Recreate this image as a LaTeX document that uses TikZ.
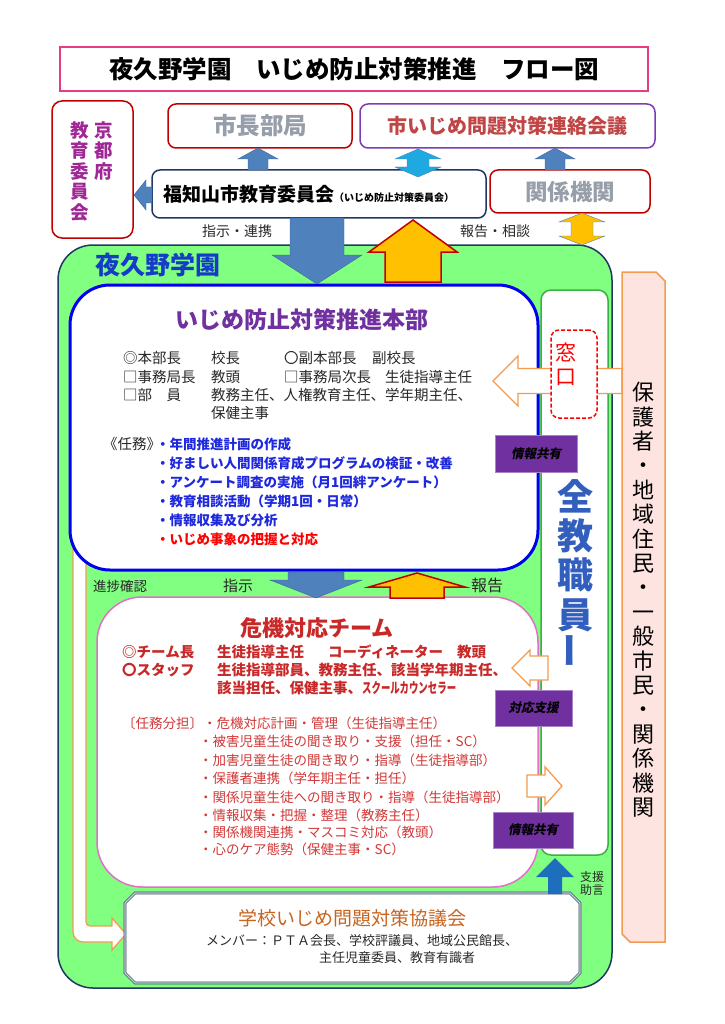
\documentclass[tikz,border=0pt]{standalone}
\usepackage{fontspec}
\setmainfont{Noto Sans CJK JP}
\newfontfamily\jpslant{Noto Sans CJK JP}[FakeSlant=0.2]
\usepackage{graphicx}
\usetikzlibrary{calc}

\definecolor{titlepink}{RGB}{230,60,130}
\definecolor{boxred}{RGB}{192,0,0}
\definecolor{kyotopurple}{RGB}{160,40,150}
\definecolor{kaigipurple}{RGB}{125,60,180}
\definecolor{kaigitext}{RGB}{192,70,70}
\definecolor{navy}{RGB}{31,56,100}
\definecolor{grayt}{RGB}{150,158,170}
\definecolor{schoolgreen}{RGB}{128,255,128}
\definecolor{schoolblue}{RGB}{20,60,200}
\definecolor{staffgreen}{RGB}{60,176,67}
\definecolor{honbublue}{RGB}{0,0,240}
\definecolor{honbupurple}{RGB}{112,48,160}
\definecolor{taskblue}{RGB}{30,40,220}
\definecolor{crisispink}{RGB}{228,110,200}
\definecolor{crisisred}{RGB}{200,40,40}
\definecolor{dutyred}{RGB}{210,56,56}
\definecolor{arrowblue}{RGB}{79,129,189}
\definecolor{arrowcyan}{RGB}{30,170,225}
\definecolor{gold}{RGB}{255,192,0}
\definecolor{hollow}{RGB}{245,155,80}
\definecolor{sharepurple}{RGB}{112,48,160}
\definecolor{staffblue}{RGB}{50,95,190}
\definecolor{guardpink}{RGB}{253,228,225}
\definecolor{kyogibrown}{RGB}{200,100,30}
\definecolor{kyogiline}{RGB}{47,79,99}
\definecolor{supportblue}{RGB}{30,110,190}
\definecolor{textgray}{RGB}{40,40,40}

\newcommand{\blockarrow}[6][]{%
  \coordinate (hb) at ($(#3)!#6!(#2)$);
  \draw[#1] ($(#2)!#4!90:(#3)$) -- ($(hb)!#4!90:(#3)$) -- ($(hb)!#5!90:(#3)$) -- (#3) -- ($(hb)!#5!-90:(#3)$) -- ($(hb)!#4!-90:(#3)$) -- ($(#2)!#4!-90:(#3)$) -- cycle;}
\newcommand{\twinarrow}[6][]{%
  \coordinate (ha) at ($(#2)!#6!(#3)$);
  \coordinate (hb) at ($(#3)!#6!(#2)$);
  \draw[#1] (#2) -- ($(ha)!#5!90:(#3)$) -- ($(ha)!#4!90:(#3)$) -- ($(hb)!#4!-90:(#2)$) -- ($(hb)!#5!-90:(#2)$) -- (#3) -- ($(hb)!#5!90:(#2)$) -- ($(hb)!#4!90:(#2)$) -- ($(ha)!#4!-90:(#3)$) -- ($(ha)!#5!-90:(#3)$) -- cycle;}

\begin{document}
\begin{tikzpicture}[x=1pt,y=-1pt,
  topbox/.style={draw, line width=1.5pt, rounded corners=8pt, fill=white, inner sep=0pt},
  member/.style={inner sep=0pt, anchor=west, text=textgray, font=\fontsize{14.5}{14.5}\selectfont},
  task/.style={inner sep=0pt, anchor=west, text=taskblue, font=\bfseries\fontsize{13.5}{13.5}\selectfont},
  crisis/.style={inner sep=0pt, anchor=west, text=crisisred, font=\bfseries\fontsize{14.5}{14.5}\selectfont},
  duty/.style={inner sep=0pt, anchor=west, text=dutyred, font=\fontsize{13.5}{13.5}\selectfont},
  label/.style={inner sep=0pt, text=textgray},
  sharebox/.style={draw=sharepurple!60, fill=sharepurple, inner sep=0pt, font=\jpslant\bfseries\fontsize{12.5}{12.5}\selectfont},
  hollowarrow/.style={draw=hollow, line width=1.3pt, fill=white},
  vtext/.style={inner sep=0pt, align=center, anchor=north}]
\useasboundingbox (0,0) rectangle (724,1024);

\node[draw=titlepink, line width=1.5pt, minimum width=588pt, minimum height=44pt, inner sep=0pt, font=\bfseries\fontsize{24.5}{24.5}\selectfont] (title) at (354,69) {夜久野学園　いじめ防止対策推進　フロー図};

\node[topbox, draw=boxred, rounded corners=10pt, minimum width=81pt, minimum height=137pt] (kyoto) at (92.5,169.5) {};
\node[vtext, text=kyotopurple, font=\bfseries\fontsize{18.5}{20.5}\selectfont] (kyotoa) at (104,121) {京\\都\\府};
\node[vtext, text=kyotopurple, font=\bfseries\fontsize{18.5}{20.5}\selectfont] (kyotob) at (80,121) {教\\育\\委\\員\\会};
\node[topbox, draw=boxred, minimum width=184pt, minimum height=44pt, text=grayt, font=\bfseries\fontsize{23.5}{23.5}\selectfont] (mayor) at (260,126) {市長部局};
\node[topbox, draw=kaigipurple, minimum width=295pt, minimum height=44pt, text=kaigitext, font=\bfseries\fontsize{20}{20}\selectfont] (kaigi) at (507.5,126) {市いじめ問題対策連絡会議};
\node[topbox, draw=navy, minimum width=334pt, minimum height=48pt] (fuku) at (319,194) {};
\node[inner sep=0pt, anchor=west, font=\bfseries] (fukutext) at (163,194) {\fontsize{19}{19}\selectfont 福知山市教育委員会\fontsize{10}{10}\selectfont（いじめ防止対策委員会）};
\node[topbox, draw=boxred, minimum width=160pt, minimum height=43pt, text=grayt, font=\bfseries\fontsize{22.5}{22.5}\selectfont] (kankei) at (570,191.5) {関係機関};

\blockarrow[fill=arrowblue, draw=arrowblue!80!black]{258,170}{258,148}{10pt}{20pt}{11pt}
\twinarrow[fill=arrowcyan, draw=arrowblue]{418,149}{418,177}{11pt}{23pt}{10pt}
\blockarrow[fill=arrowblue, draw=arrowblue!80!black]{555,170}{555,148}{10pt}{20pt}{11pt}
\blockarrow[fill=arrowblue, draw=arrowblue!80!black]{152,195}{134,195}{8pt}{15pt}{12pt}
\node[label, font=\fontsize{14}{14}\selectfont] (renkei) at (237,231) {指示・連携};
\node[label, font=\fontsize{14}{14}\selectfont] (soudan) at (495,231) {報告・相談};

\node[draw=navy, line width=1.5pt, fill=schoolgreen, rounded corners=35pt, minimum width=554pt, minimum height=743pt, inner sep=0pt] (school) at (335,616.5) {};
\twinarrow[fill=gold, draw=arrowblue]{582,213}{582,245}{11pt}{23pt}{9pt}
\node[inner sep=0pt, anchor=west, text=schoolblue, font=\bfseries\fontsize{25}{25}\selectfont] (schoolname) at (95,265) {夜久野学園};
\node[draw=staffgreen, line width=1.5pt, fill=white, rounded corners=10pt, minimum width=67pt, minimum height=565pt, inner sep=0pt] (staffbox) at (574.5,572.5) {};

\draw[hollowarrow] (86,540) -- (73,540) [rounded corners=10pt] -- (73,942) -- (100,942) [sharp corners] -- (112,942) -- (112,950) -- (126,934) -- (112,918) -- (112,926) -- (100,926) [rounded corners=4pt] -- (86,926) -- (86,540) [sharp corners] -- cycle;

\node[draw=honbublue, line width=3pt, rounded corners=40pt, fill=white, minimum width=468pt, minimum height=285pt, inner sep=0pt] (honbu) at (304,427.5) {};
\node[inner sep=0pt, text=honbupurple, font=\bfseries\fontsize{23}{23}\selectfont] (honbutitle) at (302,320) {いじめ防止対策推進本部};
\node[member] (m1a) at (123,358) {◎本部長};
\node[member] (m1b) at (211,358) {校長};
\node[member] (m1c) at (284,358) {〇副本部長};
\node[member] (m1d) at (372,358) {副校長};
\node[member] (m2a) at (123,377) {□事務局長};
\node[member] (m2b) at (211,377) {教頭};
\node[member] (m2c) at (284,377) {□事務局次長};
\node[member] (m2d) at (385,377) {生徒指導主任};
\node[member] (m3a) at (123,395) {□部　員};
\node[member] (m3b) at (211,395) {教務主任、人権教育主任、学年期主任、};
\node[member] (m4b) at (211,413) {保健主事};
\node[member] (ninmu) at (103,444) {《任務》};
\node[task] (t1) at (156,444) {・年間推進計画の作成};
\node[task] (t2) at (156,463) {・好ましい人間関係育成プログラムの検証・改善};
\node[task] (t3) at (156,482) {・アンケート調査の実施（月1回絆アンケート）};
\node[task] (t4) at (156,501) {・教育相談活動（学期1回・日常）};
\node[task] (t5) at (156,520) {・情報収集及び分析};
\node[task, text=red] (t6) at (156,539) {・いじめ事象の把握と対応};

\node[label, font=\fontsize{13.5}{13.5}\selectfont] (shinchoku) at (120,586) {進捗確認};
\node[label, font=\fontsize{15}{15}\selectfont] (shiji) at (238,586) {指示};
\node[label, font=\fontsize{16}{16}\selectfont] (houkoku) at (487,585) {報告};

\node[draw=crisispink, line width=1.5pt, rounded corners=45pt, fill=white, minimum width=441pt, minimum height=290pt, inner sep=0pt] (kiki) at (317.5,742) {};
\node[inner sep=0pt, text=crisisred, font=\bfseries\fontsize{22}{22}\selectfont] (kikititle) at (317,628) {危機対応チーム};
\node[crisis] (c1a) at (122,652) {◎チーム長};
\node[crisis] (c1b) at (217,652) {生徒指導主任};
\node[crisis] (c1c) at (328,652) {コーディネーター};
\node[crisis] (c1d) at (457,652) {教頭};
\node[crisis] (c2a) at (122,670) {〇スタッフ};
\node[crisis] (c2b) at (217,670) {生徒指導部員、教務主任、該当学年期主任、};
\node[crisis] (c3b) at (217,688) {該当担任、保健主事、\scalebox{0.65}[1]{スクールカウンセラー}};
\node[duty] (d1) at (122,723) {〔任務分担〕・危機対応計画・管理（生徒指導主任）};
\node[duty] (d2) at (199,741) {・被害児童生徒の聞き取り・支援（担任・SC）};
\node[duty] (d3) at (199,760) {・加害児童生徒の聞き取り・指導（生徒指導部）};
\node[duty] (d4) at (199,778) {・保護者連携（学年期主任・担任）};
\node[duty] (d5) at (199,797) {・関係児童生徒への聞き取り・指導（生徒指導部）};
\node[duty] (d6) at (199,815) {・情報収集・把握・整理（教務主任）};
\node[duty] (d7) at (199,832) {・関係機関連携・マスコミ対応（教頭）};
\node[duty] (d8) at (199,849) {・心のケア態勢（保健主事・SC）};

\blockarrow[fill=arrowblue, draw=arrowblue!80!black]{317,218}{317,284}{27pt}{45pt}{29pt}
\blockarrow[fill=gold, draw=boxred, line width=1.5pt]{413,282}{413,220}{28pt}{44pt}{32pt}
\blockarrow[fill=arrowblue, draw=arrowblue!80!black]{316,572}{316,598}{28pt}{46pt}{18pt}
\blockarrow[fill=gold, draw=boxred, line width=1.5pt]{417,598}{417,573}{27pt}{48pt}{14pt}

\blockarrow[hollowarrow]{622,381}{493,381}{12.5pt}{25pt}{25pt}
\node[draw=red, line width=1.5pt, dash pattern=on 4pt off 2pt, rounded corners=8pt, fill=white, minimum width=46pt, minimum height=88pt, inner sep=0pt] (madobox) at (574,374) {};
\node[vtext, text=red, font=\fontsize{21}{24}\selectfont] (madotext) at (566,342.5) {窓\\口};
\node[sharebox, minimum width=82pt, minimum height=37pt] (share1) at (536,453.5) {情報共有};
\node[vtext, text=staffblue, font=\bfseries\fontsize{36}{39.3}\selectfont] (staff) at (575,479) {全\\教\\職\\員\\\rotatebox{90}{ー}};
\blockarrow[hollowarrow]{548,668}{512,668}{12pt}{18pt}{18pt}
\node[sharebox, minimum width=77pt, minimum height=36pt] (taiou) at (533.5,708) {対応支援};
\blockarrow[hollowarrow]{527,786}{562,786}{11pt}{19pt}{17pt}
\node[sharebox, minimum width=80pt, minimum height=36pt] (share2) at (533,830) {情報共有};

\draw[draw=kyogiline, double=kyogiline!25, double distance=1.2pt, line width=0.7pt, fill=white] (135,893) -- (570,893) -- (580,903) -- (580,973) -- (570,983) -- (135,983) -- (125,973) -- (125,903) -- cycle;
\node[inner sep=0pt, text=kyogibrown, font=\fontsize{19}{19}\selectfont] (kyogi) at (352,918) {学校いじめ問題対策協議会};
\node[member, font=\fontsize{13}{13}\selectfont] (kyogia) at (206,941) {メンバー：ＰＴＡ会長、学校評議員、地域公民館長、};
\node[member, font=\fontsize{13}{13}\selectfont] (kyogib) at (319,958) {主任児童委員、教育有識者};
\blockarrow[fill=supportblue, draw=none]{555,894}{555,858}{7pt}{19pt}{19pt}
\node[label, align=center, font=\fontsize{12}{13}\selectfont] (shien) at (592,883) {支援\\助言};

\draw[draw=hollow, line width=1.5pt, fill=guardpink] (622,272) -- (656,272) -- (665,281) -- (665,942) -- (630,942) -- (622,934) -- cycle;
\node[vtext, font=\fontsize{22}{24.4}\selectfont] (hogosha) at (643,382) {保\\護\\者\\・\\地\\域\\住\\民\\・\\一\\般\\市\\民\\・\\関\\係\\機\\関};
\end{tikzpicture}
\end{document}
